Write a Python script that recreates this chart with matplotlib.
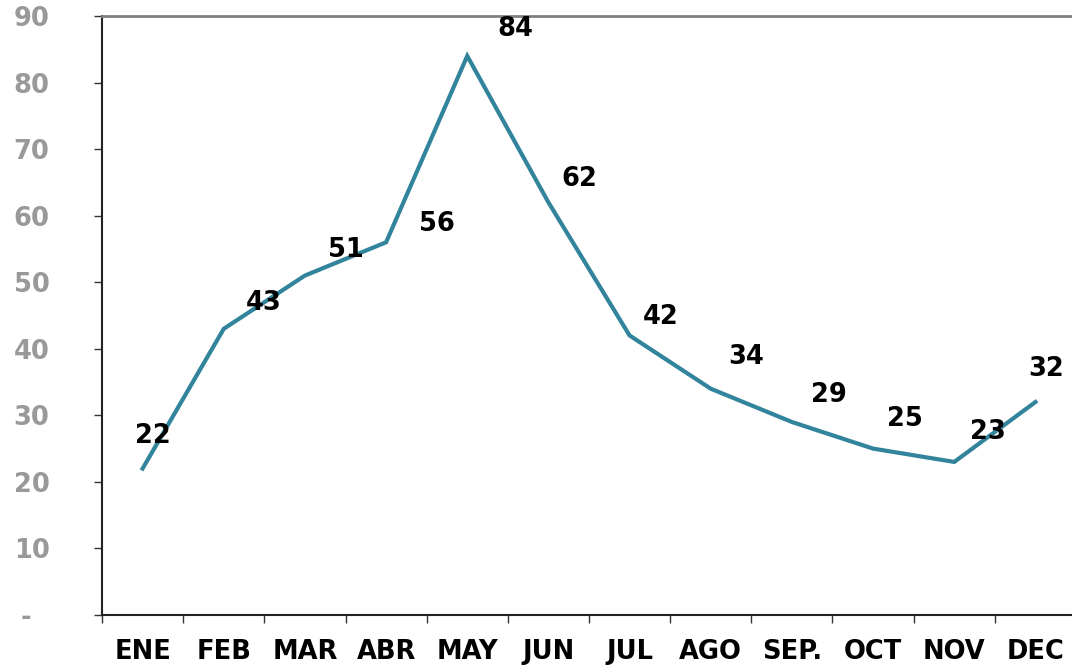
import matplotlib
matplotlib.use("Agg")
import matplotlib.pyplot as plt
from matplotlib.ticker import FixedLocator, NullFormatter

months = ["ENE", "FEB", "MAR", "ABR", "MAY", "JUN", "JUL", "AGO", "SEP.", "OCT", "NOV", "DEC"]
values = [22, 43, 51, 56, 84, 62, 42, 34, 29, 25, 23, 32]
y_ticks = [0, 10, 20, 30, 40, 50, 60, 70, 80, 90]
y_tick_labels = ["-  ", "10", "20", "30", "40", "50", "60", "70", "80", "90"]

# label offsets in pixels (dx right, dy up)
label_offsets = [(10, 33), (40, 26), (41, 26), (51, 18), (48, 27), (31, 23),
                 (31, 18), (35, 32), (37, 27), (32, 30), (34, 30), (11, 33)]

line_color = "#31849B"
fs = 18.5

fig = plt.figure(figsize=(10.72, 6.68), dpi=100)
ax = fig.add_axes([102 / 1072, 53 / 668, 974 / 1072, 599 / 668])

x = [i + 0.5 for i in range(len(months))]
ax.plot(x, values, color=line_color, lw=3, solid_joinstyle="miter", clip_on=False)

for xi, v, (dx, dy) in zip(x, values, label_offsets):
    ax.annotate(str(v), (xi, v), xytext=(dx, dy), textcoords="offset pixels",
                ha="center", va="center", fontsize=fs, fontweight="bold",
                color="black", annotation_clip=False)

ax.set_xlim(0, len(months))
ax.set_ylim(0, 90)

ax.set_xticks(x)
ax.set_xticklabels(months, fontsize=fs, fontweight="bold", color="black")
ax.xaxis.set_minor_locator(FixedLocator(list(range(len(months) + 1))))
ax.xaxis.set_minor_formatter(NullFormatter())
ax.tick_params(axis="x", which="major", length=0, pad=17.5)
ax.tick_params(axis="x", which="minor", length=8 * 0.72, width=1, direction="out", color="#333333")

ax.set_yticks(y_ticks)
ax.set_yticklabels(y_tick_labels, fontsize=fs, fontweight="bold", color="#999999")
ax.tick_params(axis="y", length=8 * 0.72, width=1, direction="out", pad=32, color="#333333")

ax.spines["right"].set_visible(False)
ax.spines["top"].set_color("#808080")
ax.spines["top"].set_linewidth(2)
ax.spines["left"].set_color("#222222")
ax.spines["left"].set_linewidth(1.5)
ax.spines["bottom"].set_color("#222222")
ax.spines["bottom"].set_linewidth(1.5)

fig.savefig("out.png", dpi=100)
